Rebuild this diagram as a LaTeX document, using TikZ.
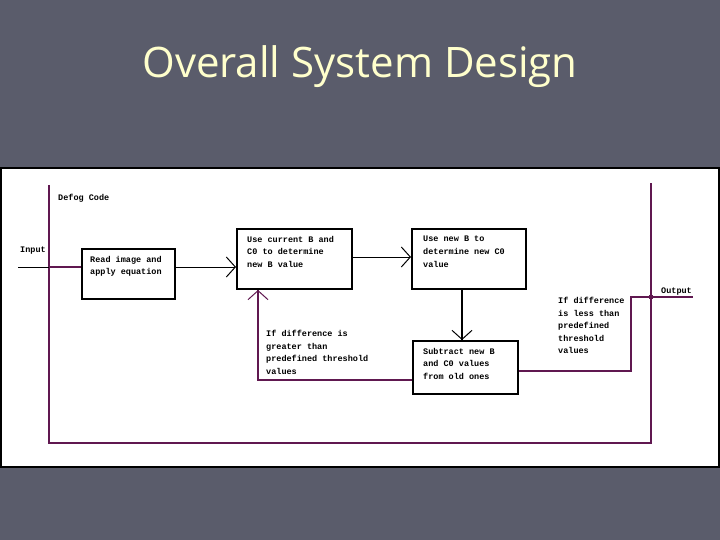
\documentclass[tikz,border=0pt]{standalone}
\usepackage{fontspec}
\setmainfont{Open Sans}
\newfontfamily\boxfont{Liberation Mono}
\usetikzlibrary{arrows.meta}
\definecolor{slate}{RGB}{90,92,107}
\definecolor{titleyellow}{RGB}{255,255,204}
\definecolor{defog}{RGB}{96,24,80}
\tikzset{
  box/.style={draw=black, line width=2pt, fill=white, anchor=north west, inner sep=0pt},
  lbl/.style={anchor=north west, inner sep=0pt, align=left, font=\boxfont\bfseries\fontsize{8.5}{12.6}\selectfont, text=black},
  conn/.style={line width=1pt, draw=black},
  pconn/.style={line width=1.2pt, draw=defog},
  barb/.style={-{Straight Barb[length=9pt, width=20pt, line width=1pt]}}
}
\begin{document}
\begin{tikzpicture}[x=1pt, y=-1pt]
\useasboundingbox (0,0) rectangle (720,540);
\fill[slate] (0,0) rectangle (720,540);
% title
\node[text=titleyellow, font=\fontsize{42}{50}\selectfont] (title) at (360,67) {Overall System Design};
% white panel
\draw[fill=white, draw=black, line width=1.5pt] (1,168) rectangle (719,467);
% defog frame
\coordinate (fTL) at (49,185);
\coordinate (fBL) at (49,443);
\coordinate (fBR) at (651,443);
\coordinate (fTR) at (651,183);
\draw[pconn, line width=2pt] (fTL) -- (fBL) -- (fBR) -- (fTR);
\node[lbl] (defogcode) at (58,194) {Defog Code};
% input
\node[lbl] (input) at (20,247) {Input};
\coordinate (inStart) at (18,267);
\coordinate (inFrame) at (49,267);
% boxes
\node[box, minimum width=93, minimum height=50] (b1) at (81,248) {};
\node[lbl] (t1) at (90,256) {Read image and\\apply equation};
\node[box, minimum width=115, minimum height=60] (b2) at (236,228) {};
\node[lbl] (t2) at (247,236) {Use current B and\\C0 to determine\\new B value};
\node[box, minimum width=114, minimum height=60] (b3) at (411,228) {};
\node[lbl] (t3) at (423,236) {Use new B to\\determine new C0\\value};
\node[box, minimum width=105, minimum height=53] (b4) at (412,340) {};
\node[lbl] (t4) at (423,348) {Subtract new B\\and C0 values\\from old ones};
% connectors
\draw[conn] (inStart) -- (inFrame);
\draw[pconn] (inFrame) -- (b1.west |- inFrame);
\draw[conn, barb] (b1.east |- inFrame) -- (b2.west |- inFrame);
\draw[conn, barb] (b2.east |- 0,257) -- (b3.west |- 0,257);
\draw[line width=2pt, draw=black] (b3.south -| 462,0) -- ([yshift=-1pt]b4.north -| 462,0);
\draw[conn, barb] (462,320) -- (b4.north -| 462,0);
% feedback loop
\coordinate (fbCorner) at (258,380);
\draw[pconn] (b4.west |- fbCorner) -- (fbCorner) -- (b2.south -| fbCorner);
\draw[conn, draw=defog, barb] (258,300) -- (b2.south -| fbCorner);
\node[lbl] (gtxt) at (266,330) {If difference is\\greater than\\predefined threshold\\values};
% output path
\coordinate (oA) at (631,371);
\coordinate (oB) at (631,297);
\coordinate (oEnd) at (693,297);
\draw[pconn] (b4.east |- oA) -- (oA) -- (oB) -- (oEnd);
\fill[defog] (649,295) rectangle (653,299);
\node[lbl] (output) at (661,288) {Output};
\node[lbl] (ltxt) at (558,297) {If difference\\is less than\\predefined\\threshold\\values};
\end{tikzpicture}
\end{document}
